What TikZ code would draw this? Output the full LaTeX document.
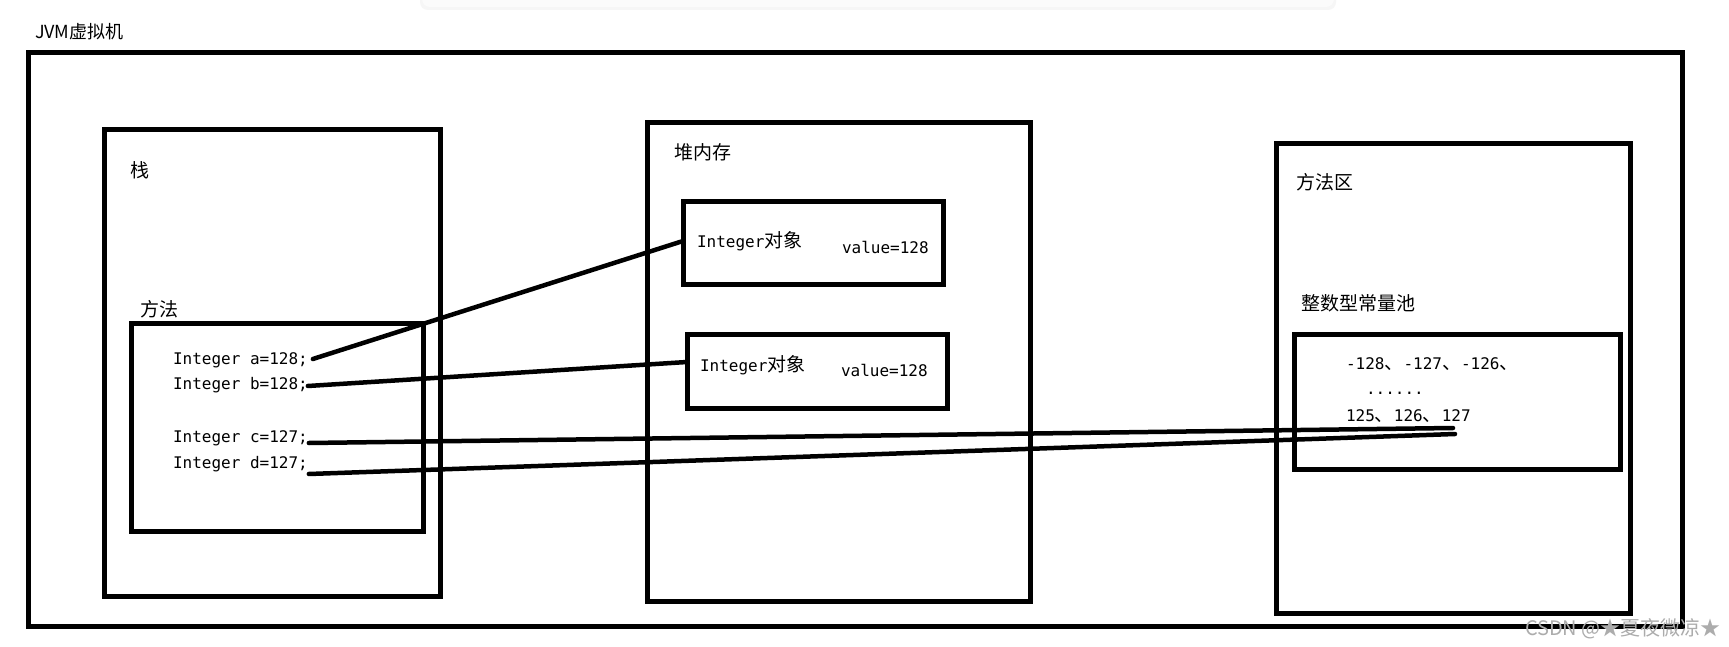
\documentclass[tikz,border=0pt]{standalone}
\usepackage{fontspec}
\setmainfont{Liberation Sans}
\newfontfamily\cjkfont{Noto Sans CJK SC}
\newfontfamily\monofont{DejaVu Sans Mono}
\newcommand\mytt[1]{{\monofont\fontsize{16}{19}\selectfont #1}}
\newcommand\myhan[1]{{\cjkfont\fontsize{19}{22}\selectfont #1}}
\begin{document}
\begin{tikzpicture}[x=1pt,y=-1pt,
  box/.style={draw=black, line width=5pt, inner sep=0pt, outer sep=0pt, rectangle},
  txt/.style={inner sep=0pt, outer sep=0pt, anchor=west, text=black},
  link/.style={draw=black, line width=4.5pt, line cap=round}]
\useasboundingbox (0,0) rectangle (1729,647);
\fill[white] (0,0) rectangle (1729,647);
% faint screenshot bar at the top
\fill[gray!7, rounded corners=8pt] (420,-12) rectangle (1336,10);
\fill[gray!3, rounded corners=8pt] (422,-12) rectangle (1334,7);

% boxes
\node[box, minimum width=1654, minimum height=573] (jvm) at (855,339.5) {};
\node[box, minimum width=336, minimum height=466] (stack) at (272,363) {};
\node[box, minimum width=292, minimum height=208] (method) at (277,427) {};
\node[box, minimum width=383, minimum height=478] (heap) at (838.5,362) {};
\node[box, minimum width=260, minimum height=82] (obj1) at (813,243) {};
\node[box, minimum width=260, minimum height=74] (obj2) at (817,371) {};
\node[box, minimum width=354, minimum height=469.5] (marea) at (1453,378.25) {};
\node[box, minimum width=326, minimum height=135] (pool) at (1457,401.5) {};

% labels
\node[txt] (ljvm) at (35,32) {\cjkfont\fontsize{18}{20}\selectfont JVM虚拟机};
\node[txt] (lstack) at (130,170) {\myhan{栈}};
\node[txt] (lmethod) at (140,309) {\myhan{方法}};
\node[txt] (lheap) at (674,152) {\myhan{堆内存}};
\node[txt] (lmarea) at (1296,182) {\myhan{方法区}};
\node[txt] (lpool) at (1301,303) {\myhan{整数型常量池}};

% code lines
\node[txt] (ta) at (173,360) {\mytt{Integer a=128;}};
\node[txt] (tb) at (173,385) {\mytt{Integer b=128;}};
\node[txt] (tc) at (173,438) {\mytt{Integer c=127;}};
\node[txt] (td) at (173,464) {\mytt{Integer d=127;}};

% objects
\node[txt] (o1a) at (697,241) {\mytt{Integer}\myhan{对象}};
\node[txt] (o1b) at (842,247) {\mytt{value=128}};
\node[txt] (o2a) at (700,365) {\mytt{Integer}\myhan{对象}};
\node[txt] (o2b) at (841,370) {\mytt{value=128}};

% pool content
\node[txt] (p1) at (1346,364) {\mytt{-128}\myhan{、}\mytt{-127}\myhan{、}\mytt{-126}\myhan{、}};
\node[txt] (p2) at (1366,393) {\mytt{......}};
\node[txt] (p3) at (1346,416) {\mytt{125}\myhan{、}\mytt{126}\myhan{、}\mytt{127}};

% free ends of connectors
\coordinate (cend) at (1453,428);
\coordinate (dend) at (1455,434);

% connectors
\draw[link] ([xshift=5pt,yshift=1pt]ta.east) -- ([yshift=2pt]obj1.west);
\draw[link] ([yshift=-1pt]tb.east) -- ([yshift=9pt]obj2.west);
\draw[link] ([xshift=1pt,yshift=-5pt]tc.east) -- (cend);
\draw[link] ([xshift=1pt,yshift=-10pt]td.east) -- (dend);

% watermark
\node[txt, text=gray!65] (wm) at (1525,629) {\cjkfont\fontsize{20}{22}\selectfont CSDN @★夏夜微凉★};
\end{tikzpicture}
\end{document}
